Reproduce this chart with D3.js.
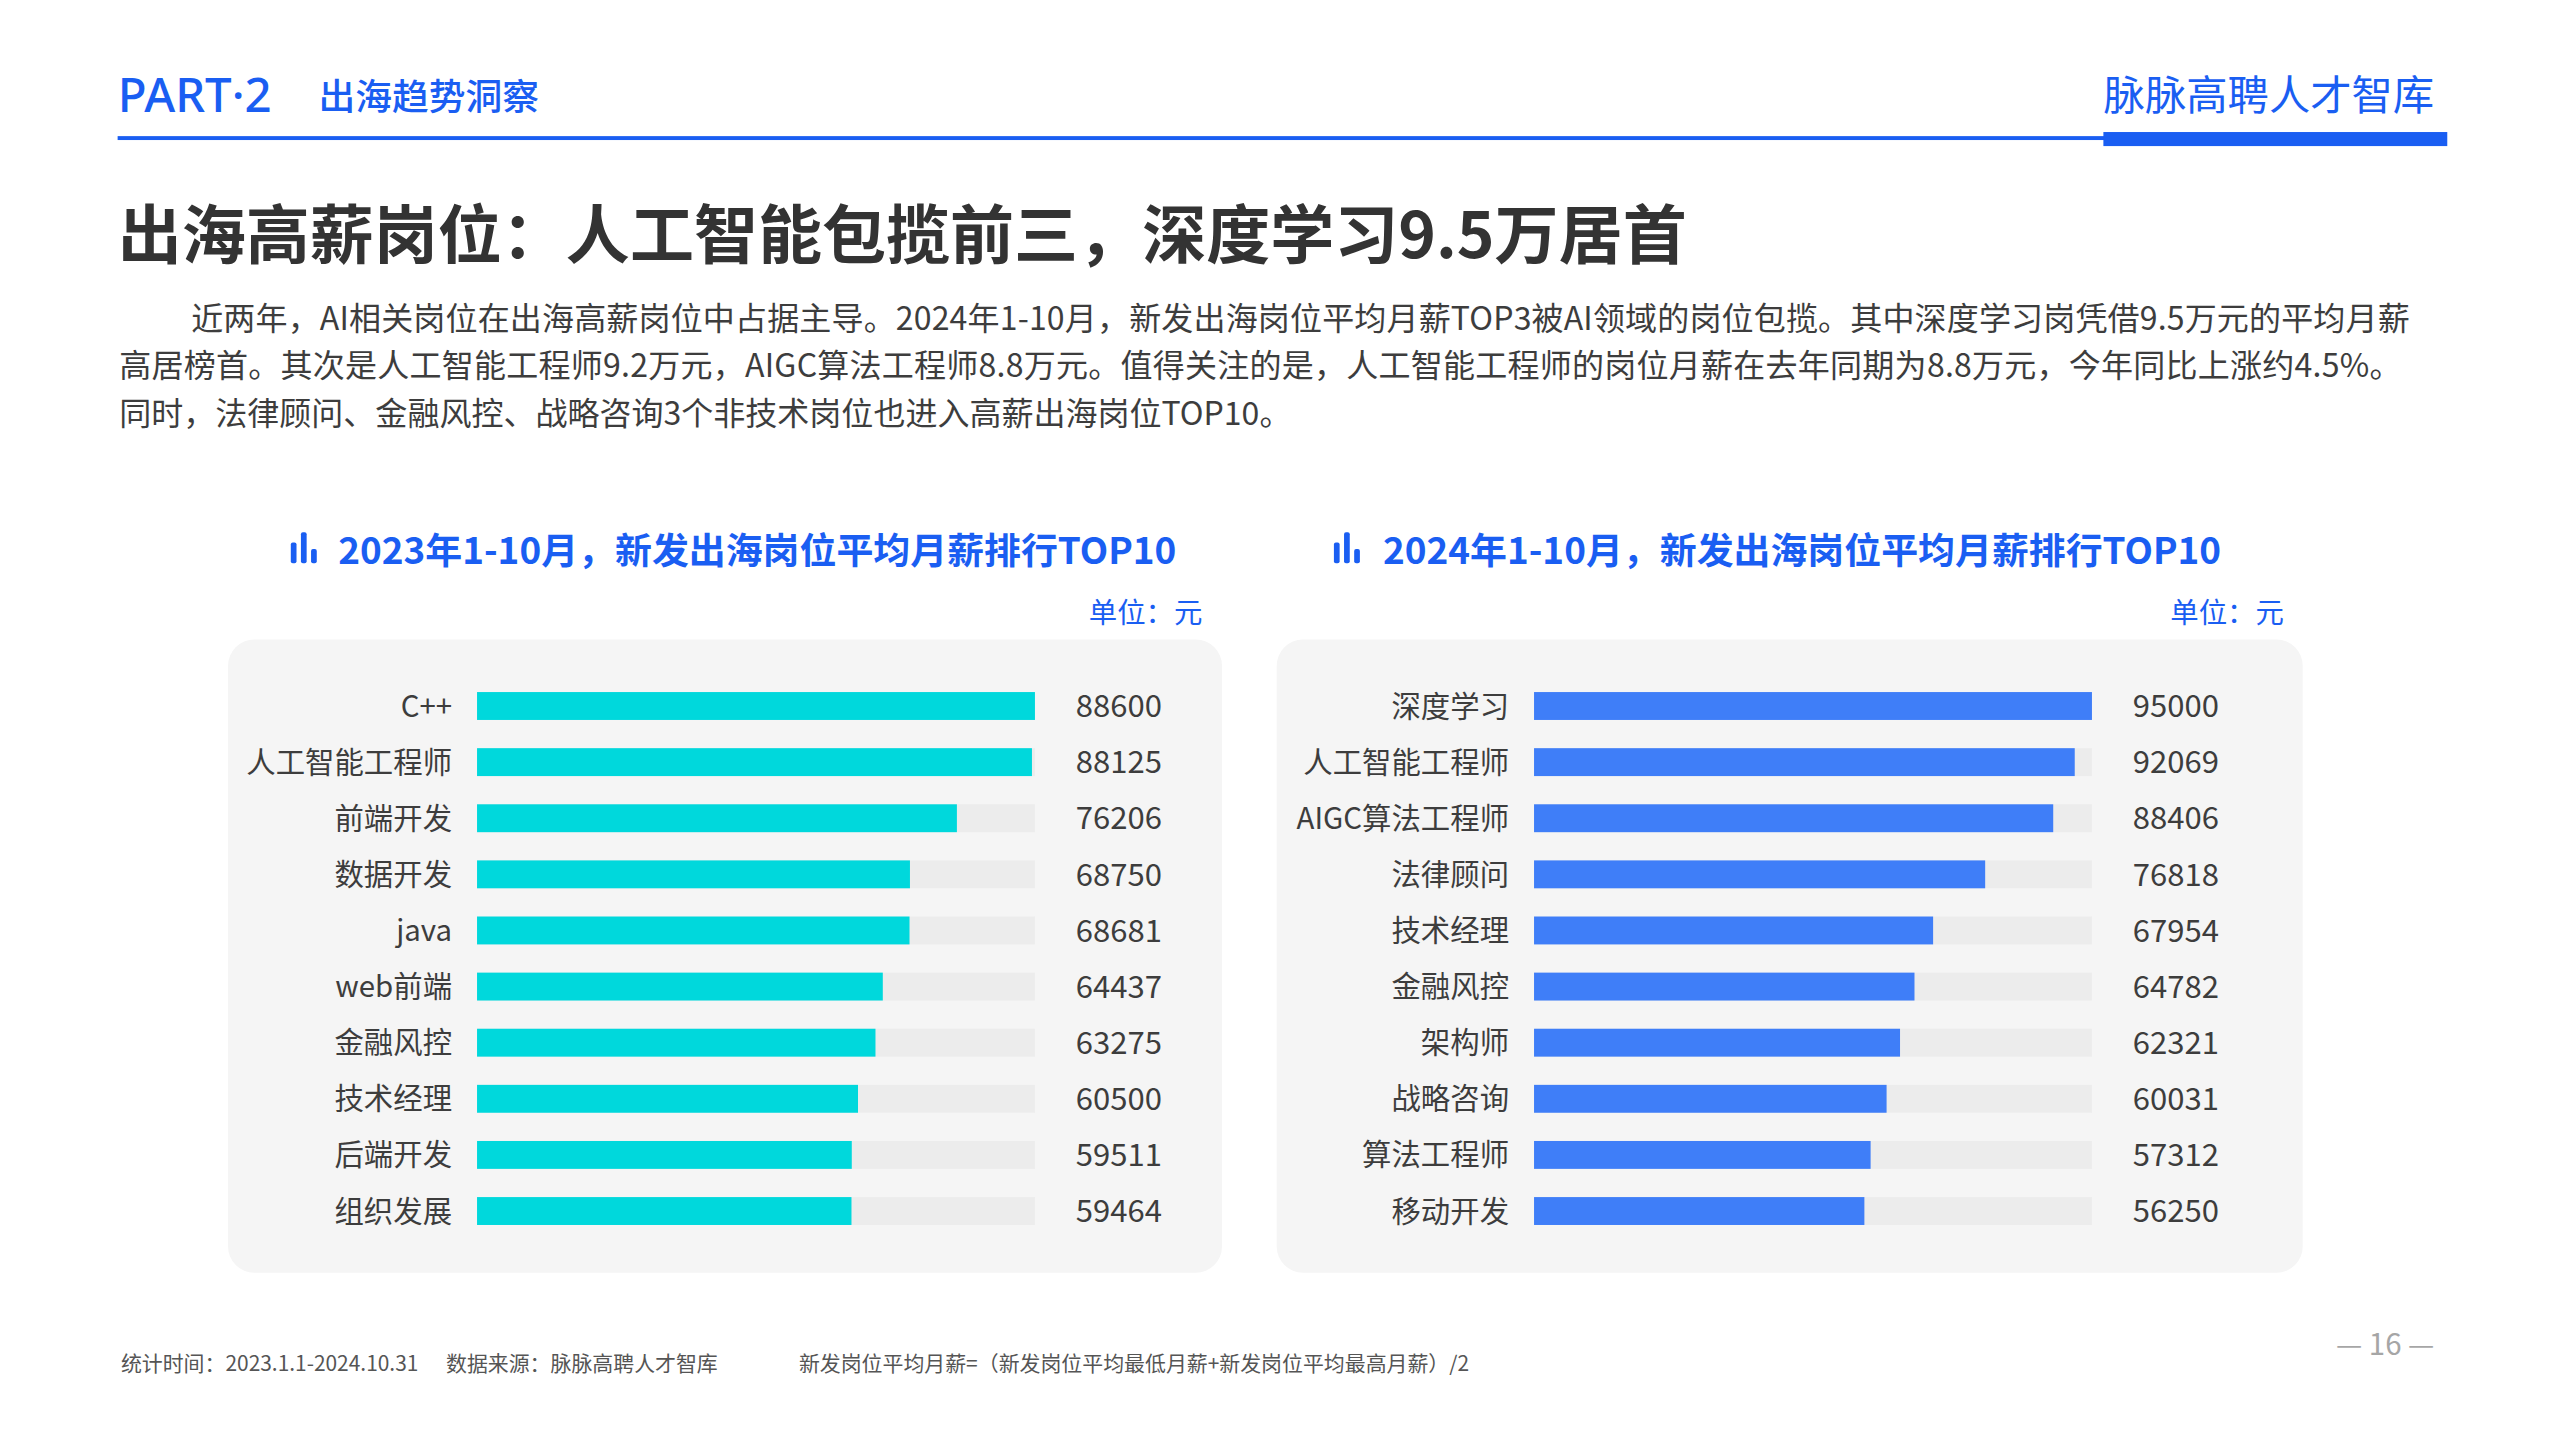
<!DOCTYPE html>
<html>
<head>
<meta charset="utf-8">
<script src="https://cdn.jsdelivr.net/npm/d3@7"></script>
<style>
  html, body { margin: 0; padding: 0; background: #fff; }
  svg { display: block; }
  text { font-family: "Noto Sans CJK SC", "Noto Sans", sans-serif; }
</style>
</head>
<body>
<div id="page"></div>
<script>
// chart data
const jobs2023 = ["C++", "人工智能工程师", "前端开发", "数据开发", "java", "web前端", "金融风控", "技术经理", "后端开发", "组织发展"];
const salary2023 = [88600, 88125, 76206, 68750, 68681, 64437, 63275, 60500, 59511, 59464];

const jobs2024 = ["深度学习", "人工智能工程师", "AIGC算法工程师", "法律顾问", "技术经理", "金融风控", "架构师", "战略咨询", "算法工程师", "移动开发"];
const salary2024 = [95000, 92069, 88406, 76818, 67954, 64782, 62321, 60031, 57312, 56250];

const chartTitles = ["2023年1-10月，新发出海岗位平均月薪排行TOP10", "2024年1-10月，新发出海岗位平均月薪排行TOP10"];

const paragraph = [
    "近两年，AI相关岗位在出海高薪岗位中占据主导。2024年1-10月，新发出海岗位平均月薪TOP3被AI领域的岗位包揽。其中深度学习岗凭借9.5万元的平均月薪",
    "高居榜首。其次是人工智能工程师9.2万元，AIGC算法工程师8.8万元。值得关注的是，人工智能工程师的岗位月薪在去年同期为8.8万元，今年同比上涨约4.5%。",
    "同时，法律顾问、金融风控、战略咨询3个非技术岗位也进入高薪出海岗位TOP10。"
];

// relative heights of the three bars in the little title icon
const iconBars = [0.67, 1, 0.46];

const BLUE = "#1a5ef2";
const TEXT = "#3d3d3d";

// the page is laid out on a 1567 wide grid and scaled up to 2560x1440
const svg = d3.select("#page").append("svg")
    .attr("width", 2560)
    .attr("height", 1440)
    .attr("viewBox", "0 0 1567 881.4");

// header
svg.append("text")
    .attr("x", 72).attr("y", 68.5)
    .attr("fill", BLUE)
    .style("font-family", "'Noto Sans', sans-serif")
    .attr("font-size", 29).attr("font-weight", 500)
    .text("PART·2");
svg.append("text")
    .attr("x", 195).attr("y", 67.5)
    .attr("fill", BLUE)
    .attr("font-size", 22.5).attr("font-weight", 500)
    .text("出海趋势洞察");
svg.append("text")
    .attr("x", 1490).attr("y", 67.5)
    .attr("text-anchor", "end")
    .attr("fill", BLUE)
    .attr("font-size", 25.3)
    .text("脉脉高聘人才智库");
svg.append("rect")
    .attr("x", 72).attr("y", 83.3)
    .attr("width", 1216).attr("height", 2.4)
    .attr("fill", BLUE);
svg.append("rect")
    .attr("x", 1287.5).attr("y", 80.8)
    .attr("width", 210.5).attr("height", 8.6)
    .attr("fill", BLUE);

// headline and intro text
svg.append("text")
    .attr("x", 72).attr("y", 158)
    .attr("fill", "#333")
    .attr("font-size", 39.2).attr("font-weight", 700)
    .text("出海高薪岗位：人工智能包揽前三，深度学习9.5万居首");

const para = svg.append("g")
    .attr("fill", TEXT)
    .attr("font-size", 19.6);
para.append("text")
    .attr("x", 117).attr("y", 202)
    .attr("textLength", 1358).attr("lengthAdjust", "spacing")
    .text(paragraph[0]);
para.append("text")
    .attr("x", 73).attr("y", 231)
    .attr("textLength", 1397).attr("lengthAdjust", "spacing")
    .text(paragraph[1]);
para.append("text")
    .attr("x", 73).attr("y", 260)
    .text(paragraph[2]);

function drawChart(opts) {
    let g = svg.append("g");

    // grey card
    g.append("rect")
        .attr("x", opts.panel[0]).attr("y", 391.5)
        .attr("width", opts.panel[1] - opts.panel[0]).attr("height", 387.5)
        .attr("rx", 16).attr("ry", 16)
        .attr("fill", "#f5f5f5");

    // title with small bar icon
    let icon = g.append("g").attr("fill", BLUE);
    iconBars.forEach(function(h, i) {
        icon.append("rect")
            .attr("x", opts.iconX + i * 6.2)
            .attr("y", 344.8 - 19 * h)
            .attr("width", 3.5).attr("height", 19 * h)
            .attr("rx", 1.2);
    });
    g.append("text")
        .attr("x", opts.titleX).attr("y", 345.5)
        .attr("fill", BLUE)
        .attr("font-size", 22.6).attr("font-weight", 700)
        .text(opts.title);
    g.append("text")
        .attr("x", opts.unitX).attr("y", 381.3)
        .attr("text-anchor", "end")
        .attr("fill", BLUE)
        .attr("font-size", 17.4)
        .text("单位：元");

    let x = d3.scaleLinear()
        .domain([0, d3.max(opts.values)])
        .range([opts.barX, opts.barX + 341.5]);

    let y = d3.scaleBand()
        .domain(opts.jobs)
        .range([423.6, 749.8])
        .paddingInner(0.503)
        .paddingOuter(0);

    let rows = g.selectAll(".row")
        .data(opts.jobs.map((d, i) => ({job: d, value: opts.values[i]})))
        .enter().append("g")
        .attr("class", "row");

    // background track
    rows.append("rect")
        .attr("x", x(0))
        .attr("y", d => y(d.job))
        .attr("width", x.range()[1] - x(0))
        .attr("height", y.bandwidth())
        .attr("fill", "#ececec");

    rows.append("rect")
        .attr("x", x(0))
        .attr("y", d => y(d.job))
        .attr("width", d => x(d.value) - x(0))
        .attr("height", y.bandwidth())
        .attr("fill", opts.color);

    rows.append("text")
        .attr("x", x(0) - 15.3)
        .attr("y", d => y(d.job) + y.bandwidth() / 2)
        .attr("dy", "0.36em")
        .attr("text-anchor", "end")
        .attr("fill", TEXT)
        .attr("font-size", 18)
        .text(d => d.job);

    rows.append("text")
        .attr("x", x.range()[1] + 25)
        .attr("y", d => y(d.job) + y.bandwidth() / 2)
        .attr("dy", "0.36em")
        .attr("fill", TEXT)
        .attr("font-size", 19)
        .text(d => d.value);
}

drawChart({
    jobs: jobs2023, values: salary2023, title: chartTitles[0],
    panel: [139.6, 748], iconX: 178, titleX: 207, unitX: 736,
    barX: 292, color: "#00d8dc"
});
drawChart({
    jobs: jobs2024, values: salary2024, title: chartTitles[1],
    panel: [781.5, 1409.5], iconX: 816.5, titleX: 846.5, unitX: 1398,
    barX: 939, color: "#3f7ef8"
});

// footer
const foot = svg.append("g")
    .attr("fill", "#555")
    .attr("font-size", 12.8);
foot.append("text").attr("x", 74).attr("y", 839).text("统计时间：2023.1.1-2024.10.31");
foot.append("text").attr("x", 273).attr("y", 839).text("数据来源：脉脉高聘人才智库");
foot.append("text").attr("x", 489).attr("y", 839).text("新发岗位平均月薪=（新发岗位平均最低月薪+新发岗位平均最高月薪）/2");

svg.append("text")
    .attr("x", 1460).attr("y", 829.5)
    .attr("text-anchor", "middle")
    .attr("fill", "#a6a6a6")
    .attr("font-size", 18)
    .text("— 16 —");
</script>
</body>
</html>
